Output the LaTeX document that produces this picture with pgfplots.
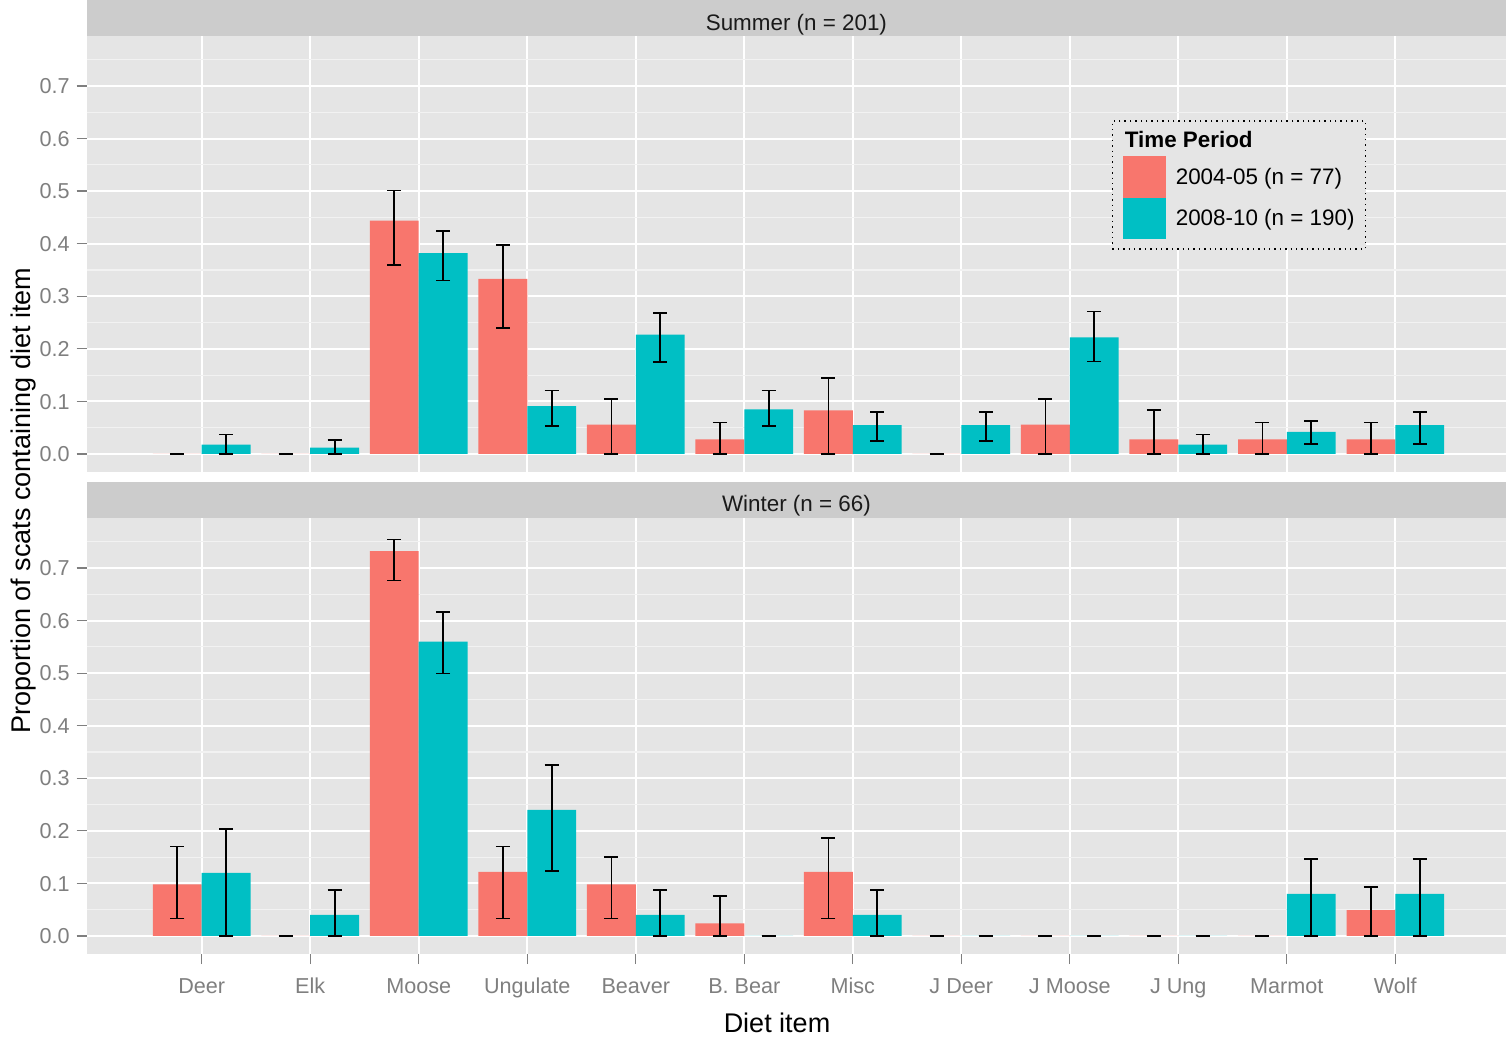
\documentclass[border=0pt]{standalone}
\usepackage{pgfplots}
\pgfplotsset{compat=1.18}
\usepackage{pgfplotstable}
\usepackage{fontspec}
\setmainfont{Liberation Sans}
\definecolor{ggred}{HTML}{F8766D}
\definecolor{ggcyan}{HTML}{00BFC4}
\definecolor{panelbg}{HTML}{E5E5E5}
\definecolor{stripbg}{HTML}{CCCCCC}
\definecolor{minorgrid}{HTML}{F2F2F2}
\definecolor{tickgrey}{HTML}{7F7F7F}
\definecolor{striptext}{HTML}{1A1A1A}
\newcommand{\ft}{\fontsize{10.8}{13}\selectfont}
\newcommand{\fl}{\fontsize{11.2}{13.4}\selectfont}
\newcommand{\fa}{\fontsize{13.5}{16}\selectfont}

% i: category index; r/c: proportions for 2004-05 / 2008-10; lo/hi: error bar ends
\pgfplotstableread{
i r rlo rhi c clo chi
1 0 0 0 0.018 0 0.037
2 0 0 0 0.012 0 0.027
3 0.444 0.360 0.501 0.382 0.330 0.424
4 0.333 0.239 0.397 0.091 0.053 0.121
5 0.056 0 0.104 0.227 0.175 0.268
6 0.028 0 0.060 0.085 0.053 0.121
7 0.083 0 0.145 0.055 0.025 0.080
8 0 0 0 0.055 0.025 0.080
9 0.056 0 0.104 0.222 0.176 0.271
10 0.028 0 0.084 0.018 0 0.037
11 0.028 0 0.060 0.042 0.019 0.063
12 0.028 0 0.060 0.055 0.019 0.080
}\summer

\pgfplotstableread{
i r rlo rhi c clo chi
1 0.098 0.033 0.170 0.120 0 0.203
2 0 0 0 0.040 0 0.087
3 0.732 0.676 0.754 0.560 0.499 0.616
4 0.122 0.033 0.170 0.240 0.123 0.325
5 0.098 0.033 0.150 0.040 0 0.087
6 0.024 0 0.076 0 0 0
7 0.122 0.033 0.187 0.040 0 0.087
8 0 0 0 0 0 0
9 0 0 0 0 0 0
10 0 0 0 0 0 0
11 0 0 0 0.080 0 0.146
12 0.049 0 0.093 0.080 0 0.146
}\winter

\pgfplotsset{
  ggpanel/.style={
    scale only axis, width=709.65pt, height=218pt,
    xmin=-0.06, xmax=13.02, ymin=-0.0343, ymax=0.795,
    axis background/.style={fill=panelbg},
    axis line style={draw=none},
    xtick={1,2,3,4,5,6,7,8,9,10,11,12},
    ytick={0,0.1,0.2,0.3,0.4,0.5,0.6,0.7},
    minor ytick={0.05,0.15,0.25,0.35,0.45,0.55,0.65,0.75},
    xmajorgrids, ymajorgrids, yminorgrids,
    major grid style={white, line width=1pt},
    minor grid style={minorgrid, line width=0.6pt},
    tick align=outside, major tick length=5pt, minor tick length=0pt,
    tick style={tickgrey, line width=0.6pt},
    ytick pos=left, xtick pos=bottom,
    /pgf/number format/assume math mode=true,
    yticklabel style={text=tickgrey, font=\ft, yshift=-1.2pt, /pgf/number format/.cd, fixed, fixed zerofill, precision=1},
    xticklabel style={text=tickgrey, font=\ft, yshift=-2pt},
    typeset ticklabels with strut,
    clip=false,
  },
  errstyle/.style={forget plot, ybar, bar width=0.45, bar shift=0pt, fill=#1, draw=none,
    error bars/.cd, y dir=both, y explicit,
    error bar style={black, line width=0.85pt},
    error mark options={black, line width=0.85pt, mark size=3.5pt, rotate=90}},
  mykey/.style={legend image code/.code={\fill[#1] (0pt,-9.5pt) rectangle (20.5pt,10.5pt);}},
}

\begin{document}
\begin{tikzpicture}
\useasboundingbox (0,0) rectangle (753.5pt,-520pt);

% strips
\fill[stripbg] (43.35pt,0pt) rectangle (753pt,-18pt);
\fill[stripbg] (43.35pt,-241pt) rectangle (753pt,-259pt);
\node[anchor=base, text=striptext, font=\fl] at (398.2pt,-15pt) {Summer (n = 201)};
\node[anchor=base, text=striptext, font=\fl] at (398.2pt,-255.5pt) {Winter (n = 66)};

\begin{axis}[ggpanel, at={(43.35pt,-236pt)}, anchor=south west,
  xticklabels={}, xmajorticks=false,
  legend cell align=left,
  legend style={at={(0.7222,0.807)}, anchor=north west, draw=black, dotted,
    line width=0.7pt, fill=panelbg, inner xsep=5.5pt, inner ysep=5pt,
    font=\fl, row sep=0pt, column sep=5pt, nodes={inner sep=0pt}},
  ]
\addplot[errstyle=ggred] table[x expr=\thisrow{i}-0.225, y=r,
  y error plus expr=\thisrow{rhi}-\thisrow{r}, y error minus expr=\thisrow{r}-\thisrow{rlo}] {\summer};
\addplot[errstyle=ggcyan] table[x expr=\thisrow{i}+0.225, y=c,
  y error plus expr=\thisrow{chi}-\thisrow{c}, y error minus expr=\thisrow{c}-\thisrow{clo}] {\summer};
\addlegendimage{legend image code/.code={\path[draw=none,fill=none] (0pt,-8.5pt) rectangle (0.1pt,2.5pt);}}
\addlegendentry{\hspace*{-25.5pt}\raisebox{-1.2pt}{\textbf{Time Period}}}
\addlegendimage{mykey=ggred}
\addlegendentry{2004-05 (n = 77)}
\addlegendimage{mykey=ggcyan}
\addlegendentry{2008-10 (n = 190)}
\end{axis}

\begin{axis}[ggpanel, at={(43.35pt,-477pt)}, anchor=south west,
  xticklabels={Deer,Elk,Moose,Ungulate,Beaver,B. Bear,Misc,J Deer,J Moose,J Ung,Marmot,Wolf},
  ]
\addplot[errstyle=ggred] table[x expr=\thisrow{i}-0.225, y=r,
  y error plus expr=\thisrow{rhi}-\thisrow{r}, y error minus expr=\thisrow{r}-\thisrow{rlo}] {\winter};
\addplot[errstyle=ggcyan] table[x expr=\thisrow{i}+0.225, y=c,
  y error plus expr=\thisrow{chi}-\thisrow{c}, y error minus expr=\thisrow{c}-\thisrow{clo}] {\winter};
\end{axis}

\node[rotate=90, font=\fa] at (11.75pt,-250.25pt) {Proportion of scats containing diet item};
\node[anchor=base, font=\fa] at (388.5pt,-516pt) {Diet item};
\end{tikzpicture}
\end{document}
